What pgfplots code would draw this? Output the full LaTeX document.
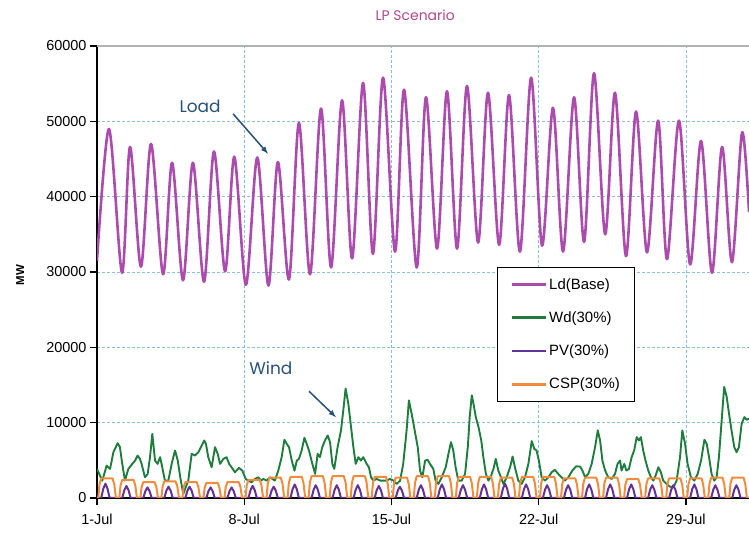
\documentclass[border=0pt]{standalone}
\usepackage{fontspec}
\setmainfont{Liberation Sans}
\newfontfamily\pop{Poppins}
\usepackage{pgfplots}
\pgfplotsset{compat=1.18}
\usepackage{pgfplotstable}

\definecolor{loadc}{RGB}{172,75,174}
\definecolor{windc}{RGB}{30,125,60}
\definecolor{pvc}{RGB}{100,50,150}
\definecolor{cspc}{RGB}{242,140,60}
\definecolor{annot}{RGB}{40,80,120}
\definecolor{titlec}{RGB}{180,70,140}
\definecolor{gridc}{RGB}{140,190,225}

\pgfplotstableread{
d v
0 31500
0.57 49000
1.19 29900
1.57 46600
2.09 30700
2.57 47000
3.14 29700
3.57 44500
4.09 28900
4.56 44500
5.09 28700
5.56 46000
6.09 30100
6.53 45300
7.08 28300
7.62 45200
8.15 28200
8.6 44600
9.13 29000
9.6 49800
10.13 29700
10.65 51700
11.13 30600
11.65 52800
12.13 31800
12.65 55100
13.12 32400
13.6 55800
14.17 32700
14.6 54200
15.2 30600
15.64 53200
16.17 33100
16.64 54000
17.12 33100
17.59 54700
18.12 33900
18.59 53800
19.12 33600
19.59 53500
20.11 32700
20.64 55800
21.16 33500
21.68 51800
22.16 32700
22.68 53200
23.16 34000
23.63 56400
24.16 35000
24.63 53800
25.15 32100
25.63 51300
26.15 32600
26.68 50100
27.1 31700
27.67 50100
28.2 31000
28.72 47400
29.24 29900
29.72 46600
30.19 31300
30.67 48500
31.0 38000
}\loadtab

\pgfplotstableread{
d v
0 3860
0.25 2300
0.46 4300
0.62 3860
0.78 6080
0.98 7280
1.09 6750
1.20 4530
1.33 2310
1.49 3860
1.68 4530
1.81 4970
1.93 5640
2.04 5190
2.12 4530
2.28 2750
2.41 3200
2.52 5420
2.63 8520
2.76 4970
2.88 4530
3.00 5420
3.07 4530
3.23 2310
3.39 2310
3.55 4530
3.71 6300
3.84 4970
3.96 2750
4.10 530
4.34 2310
4.50 5860
4.66 5640
4.82 6080
4.94 6750
5.10 7640
5.18 7190
5.29 5420
5.45 4080
5.61 6750
5.74 5860
5.85 4530
6.01 5190
6.16 5420
6.28 4530
6.40 4080
6.56 3420
6.75 4000
6.91 3640
7.07 2530
7.19 2310
7.35 2090
7.51 2530
7.67 2750
7.80 2310
7.91 2530
8.07 2310
8.22 2750
8.46 2310
8.62 3640
8.78 5420
8.91 7730
9.02 7190
9.13 6750
9.26 4970
9.39 3640
9.50 4970
9.60 5190
9.73 6300
9.86 7990
9.97 7190
10.08 6300
10.24 4530
10.37 3200
10.49 5860
10.60 5420
10.71 6750
10.84 7640
10.97 8300
11.08 7410
11.19 4530
11.28 3860
11.44 6750
11.60 8970
11.71 11630
11.82 14520
11.95 12520
12.07 9630
12.19 6750
12.30 4530
12.43 5420
12.55 4970
12.66 5420
12.82 4530
12.93 4080
13.03 2750
13.14 2310
13.30 2530
13.46 2310
13.62 2310
13.77 2310
13.93 2530
14.09 2310
14.25 1870
14.41 2310
14.56 4530
14.72 8970
14.83 12960
14.96 11190
15.09 9200
15.25 6750
15.36 3640
15.47 2750
15.60 4970
15.72 5060
15.83 4530
15.99 3860
16.10 2310
16.23 1870
16.39 2750
16.58 4080
16.71 5860
16.83 7410
16.94 6300
17.05 4080
17.18 2310
17.34 2310
17.50 3200
17.63 6750
17.72 10740
17.82 13630
17.90 12520
18.01 10740
18.14 9410
18.27 7640
18.37 5420
18.49 3200
18.61 2310
18.74 2970
18.85 3860
18.96 5190
19.08 3640
19.21 2750
19.32 1870
19.48 2750
19.64 4080
19.76 5510
19.87 4080
20.03 2310
20.19 1870
20.35 2750
20.51 4530
20.67 7550
20.79 6530
20.90 6300
21.01 4970
21.14 2750
21.30 2310
21.46 2750
21.62 3420
21.77 3730
21.93 3200
22.09 2750
22.25 2310
22.41 2750
22.60 3640
22.78 4200
22.97 4170
23.08 3640
23.21 2750
23.36 3200
23.52 4530
23.68 6750
23.81 8970
23.92 7640
24.03 4970
24.16 3640
24.31 2750
24.47 2530
24.63 3200
24.75 4530
24.87 4970
24.94 3640
25.07 4530
25.17 3640
25.29 3860
25.42 5420
25.54 6300
25.66 8080
25.77 7640
25.86 8080
25.97 6300
26.08 4970
26.21 3640
26.34 2750
26.45 2310
26.56 2970
26.69 4080
26.81 3420
26.92 2310
27.08 1870
27.24 1510
27.40 1420
27.56 2310
27.72 5420
27.83 8970
27.96 7190
28.08 4530
28.24 2750
28.40 2310
28.56 3200
28.72 4970
28.88 7730
28.99 7190
29.10 5420
29.22 3200
29.35 2310
29.46 2750
29.57 5420
29.70 10300
29.82 14740
29.94 13410
30.05 11190
30.17 8970
30.30 6750
30.41 6080
30.52 6750
30.65 9860
30.78 10740
30.89 10390
31.0 10520
}\windtab

\pgfplotstableread{
d v
0 0
0.2 0
0.3 1240
0.4 1900
0.5 1240
0.6 0
1.2 0
1.3 1040
1.4 1600
1.5 1040
1.6 0
2.2 0
2.3 910
2.4 1400
2.5 910
2.6 0
3.2 0
3.3 980
3.4 1500
3.5 980
3.6 0
4.2 0
4.3 980
4.4 1500
4.5 980
4.6 0
5.2 0
5.3 910
5.4 1400
5.5 910
5.6 0
6.2 0
6.3 910
6.4 1400
6.5 910
6.6 0
7.2 0
7.3 1040
7.4 1600
7.5 1040
7.6 0
8.2 0
8.3 980
8.4 1500
8.5 980
8.6 0
9.2 0
9.3 1170
9.4 1800
9.5 1170
9.6 0
10.2 0
10.3 1100
10.4 1700
10.5 1100
10.6 0
11.2 0
11.3 1100
11.4 1700
11.5 1100
11.6 0
12.2 0
12.3 1100
12.4 1700
12.5 1100
12.6 0
13.2 0
13.3 1040
13.4 1600
13.5 1040
13.6 0
14.2 0
14.3 980
14.4 1500
14.5 980
14.6 0
15.2 0
15.3 1100
15.4 1700
15.5 1100
15.6 0
16.2 0
16.3 1170
16.4 1800
16.5 1170
16.6 0
17.2 0
17.3 1100
17.4 1700
17.5 1100
17.6 0
18.2 0
18.3 1170
18.4 1800
18.5 1170
18.6 0
19.2 0
19.3 1240
19.4 1900
19.5 1240
19.6 0
20.2 0
20.3 1170
20.4 1800
20.5 1170
20.6 0
21.2 0
21.3 1100
21.4 1700
21.5 1100
21.6 0
22.2 0
22.3 1100
22.4 1700
22.5 1100
22.6 0
23.2 0
23.3 1170
23.4 1800
23.5 1170
23.6 0
24.2 0
24.3 1170
24.4 1800
24.5 1170
24.6 0
25.2 0
25.3 1170
25.4 1800
25.5 1170
25.6 0
26.2 0
26.3 1100
26.4 1700
26.5 1100
26.6 0
27.2 0
27.3 1100
27.4 1700
27.5 1100
27.6 0
28.2 0
28.3 1170
28.4 1800
28.5 1170
28.6 0
29.2 0
29.3 1100
29.4 1700
29.5 1100
29.6 0
30.2 0
30.3 1100
30.4 1700
30.5 1100
30.6 0
31 0
}\pvtab

\pgfplotstableread{
d v
0 0
0.06 0
0.12 1820
0.2 2600
0.74 2600
0.82 1820
0.9 0
1.06 0
1.12 1680
1.2 2400
1.74 2400
1.82 1680
1.9 0
2.06 0
2.12 1470
2.2 2100
2.74 2100
2.82 1470
2.9 0
3.06 0
3.12 1540
3.2 2200
3.74 2200
3.82 1540
3.9 0
4.06 0
4.12 1470
4.2 2100
4.74 2100
4.82 1470
4.9 0
5.06 0
5.12 1400
5.2 2000
5.74 2000
5.82 1400
5.9 0
6.06 0
6.12 1470
6.2 2100
6.74 2100
6.82 1470
6.9 0
7.06 0
7.12 1680
7.2 2400
7.74 2400
7.82 1680
7.9 0
8.06 0
8.12 1890
8.2 2700
8.74 2700
8.82 1890
8.9 0
9.06 0
9.12 1960
9.2 2800
9.74 2800
9.82 1960
9.9 0
10.06 0
10.12 2030
10.2 2900
10.74 2900
10.82 2030
10.9 0
11.06 0
11.12 2030
11.2 2900
11.74 2900
11.82 2030
11.9 0
12.06 0
12.12 2030
12.2 2900
12.74 2900
12.82 2030
12.9 0
13.06 0
13.12 1960
13.2 2800
13.74 2800
13.82 1960
13.9 0
14.06 0
14.12 1890
14.2 2700
14.74 2700
14.82 1890
14.9 0
15.06 0
15.12 2030
15.2 2900
15.74 2900
15.82 2030
15.9 0
16.06 0
16.12 2030
16.2 2900
16.74 2900
16.82 2030
16.9 0
17.06 0
17.12 1960
17.2 2800
17.74 2800
17.82 1960
17.9 0
18.06 0
18.12 1960
18.2 2800
18.74 2800
18.82 1960
18.9 0
19.06 0
19.12 1890
19.2 2700
19.74 2700
19.82 1890
19.9 0
20.06 0
20.12 1960
20.2 2800
20.74 2800
20.82 1960
20.9 0
21.06 0
21.12 1960
21.2 2800
21.74 2800
21.82 1960
21.9 0
22.06 0
22.12 1820
22.2 2600
22.74 2600
22.82 1820
22.9 0
23.06 0
23.12 1890
23.2 2700
23.74 2700
23.82 1890
23.9 0
24.06 0
24.12 1890
24.2 2700
24.74 2700
24.82 1890
24.9 0
25.06 0
25.12 1750
25.2 2500
25.74 2500
25.82 1750
25.9 0
26.06 0
26.12 1820
26.2 2600
26.74 2600
26.82 1820
26.9 0
27.06 0
27.12 1820
27.2 2600
27.74 2600
27.82 1820
27.9 0
28.06 0
28.12 1820
28.2 2600
28.74 2600
28.82 1820
28.9 0
29.06 0
29.12 1890
29.2 2700
29.74 2700
29.82 1890
29.9 0
30.06 0
30.12 1890
30.2 2700
30.74 2700
30.82 1890
30.9 0
31 0
}\csptab

\begin{document}
\begin{tikzpicture}
\path[use as bounding box] (0,0) rectangle (749bp,536bp);
\begin{axis}[
  at={(97bp,38bp)}, anchor=south west,
  width=652bp, height=452bp, scale only axis,
  xmin=0, xmax=31, ymin=0, ymax=60000,
  axis lines=left,
  axis line style={-, line width=1.4bp, black},
  xtick={0,7,14,21,28},
  xticklabels={1-Jul,8-Jul,15-Jul,22-Jul,29-Jul},
  ytick={0,10000,20000,30000,40000,50000,60000},
  scaled y ticks=false,
  /pgf/number format/1000 sep={},
  /pgf/number format/assume math mode=true,
  tick label style={font=\fontsize{14.5}{16}\selectfont},
  xticklabel style={yshift=-6bp},
  tick align=outside,
  major tick length=7bp,
  tick style={line width=1.2bp, black},
  grid=major,
  major grid style={dash pattern=on 3bp off 2bp, color=gridc, line width=0.8bp},
  ylabel={MW},
  every axis y label/.style={at={(axis description cs:-0.118,0.493)}, rotate=90, anchor=center, font=\bfseries\fontsize{11.5}{13}\selectfont},
  title={LP Scenario},
  every axis title/.style={at={(axis description cs:0.488,1.069)}, anchor=center, font=\pop\fontsize{14}{16}\selectfont, text=titlec},
  legend style={at={(rel axis cs:0.6135,0.512)}, anchor=north west, draw=black, line width=1.3bp,
    font=\fontsize{15}{17}\selectfont, row sep=17bp, inner xsep=13bp, inner ysep=9bp},
  legend cell align=left,
  legend image code/.code={\draw[#1, line width=2.6bp] (0bp,0bp) -- (34bp,0bp);},
]
\addplot[color=loadc, line width=2.6bp, smooth, line join=round] table[x=d,y=v] {\loadtab};
\addlegendentry{Ld(Base)}
\addplot[color=windc, line width=1.9bp, line join=round] table[x=d,y=v] {\windtab};
\addlegendentry{Wd(30\%)}
\addplot[color=pvc, line width=2bp, line join=round] table[x=d,y=v] {\pvtab};
\addlegendentry{PV(30\%)}
\addplot[color=cspc, line width=2bp, line join=round] table[x=d,y=v] {\csptab};
\addlegendentry{CSP(30\%)}
\draw[line width=1.6bp, color=gray!60] (axis cs:0,60000) -- (axis cs:31,60000);
\node[font=\pop\fontsize{17}{19}\selectfont, text=annot] at (axis cs:4.9,52050) {Load};
\draw[-latex, line width=1.5bp, color=annot] (axis cs:6.47,51000) -- (axis cs:8.13,45700);
\node[font=\pop\fontsize{17}{19}\selectfont, text=annot] at (axis cs:8.27,17220) {Wind};
\draw[-latex, line width=1.5bp, color=annot] (axis cs:10.08,14170) -- (axis cs:11.36,10730);
\end{axis}
\end{tikzpicture}
\end{document}
